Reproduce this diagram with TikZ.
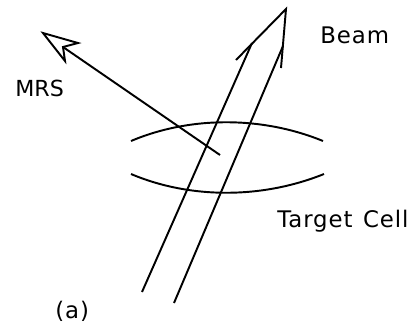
\documentclass[tikz,border=0pt]{standalone}
\usepackage{fontspec}
\setmainfont{DejaVu Sans}
\newfontfamily\widefont[LetterSpace=4]{DejaVu Sans}

\tikzset{
  lbl/.style={inner sep=0pt,font=\fontsize{13pt}{15pt}\widefont},
  ln/.style={line width=1.1pt}
}

\begin{document}
\begin{tikzpicture}[x=0.02cm,y=-0.02cm]
\path (0,0) rectangle (413,322);
\coordinate (beamAstart) at (142,292);
\coordinate (beamAtip) at (252,43);
\coordinate (beamBstart) at (174,303);
\coordinate (beamBtip) at (283,46);
\coordinate (headL) at (236,60);
\coordinate (headT) at (286,9);
\coordinate (headR) at (281,68);
\coordinate (mrsTail) at (220,155);
\coordinate (mrsNotch) at (63,47);
\coordinate (mrsTip) at (43,33);
\coordinate (mrsA) at (78,43);
\coordinate (mrsB) at (65,61);
\coordinate (cellUL) at (131,141);
\coordinate (cellUR) at (323,141);
\coordinate (cellLL) at (131,174);
\coordinate (cellLR) at (324,174);
\draw[ln] (beamAstart) -- (beamAtip);
\draw[ln] (beamBstart) -- (beamBtip);
\draw[ln] (headL) -- (headT) -- (headR);
\draw[ln] (mrsTail) -- (mrsNotch);
\draw[ln,line join=miter] (mrsTip) -- (mrsA) -- (mrsNotch) -- (mrsB) -- cycle;
\draw[ln] (cellUL) .. controls (190,116) and (262,116) .. (cellUR);
\draw[ln] (cellLL) .. controls (190,199) and (262,199) .. (cellLR);
\node[lbl,anchor=base west] (beamLabel) at (320,43) {Beam};
\node[lbl,anchor=base west,font=\fontsize{12.6pt}{15pt}\selectfont] (mrsLabel) at (15,96) {MRS};
\node[lbl,anchor=base west] (cellLabel) at (277,227) {Target\hspace{6pt}Cell};
\node[lbl,anchor=base west] (partLabel) at (55,318) {(a)};
\end{tikzpicture}
\end{document}
